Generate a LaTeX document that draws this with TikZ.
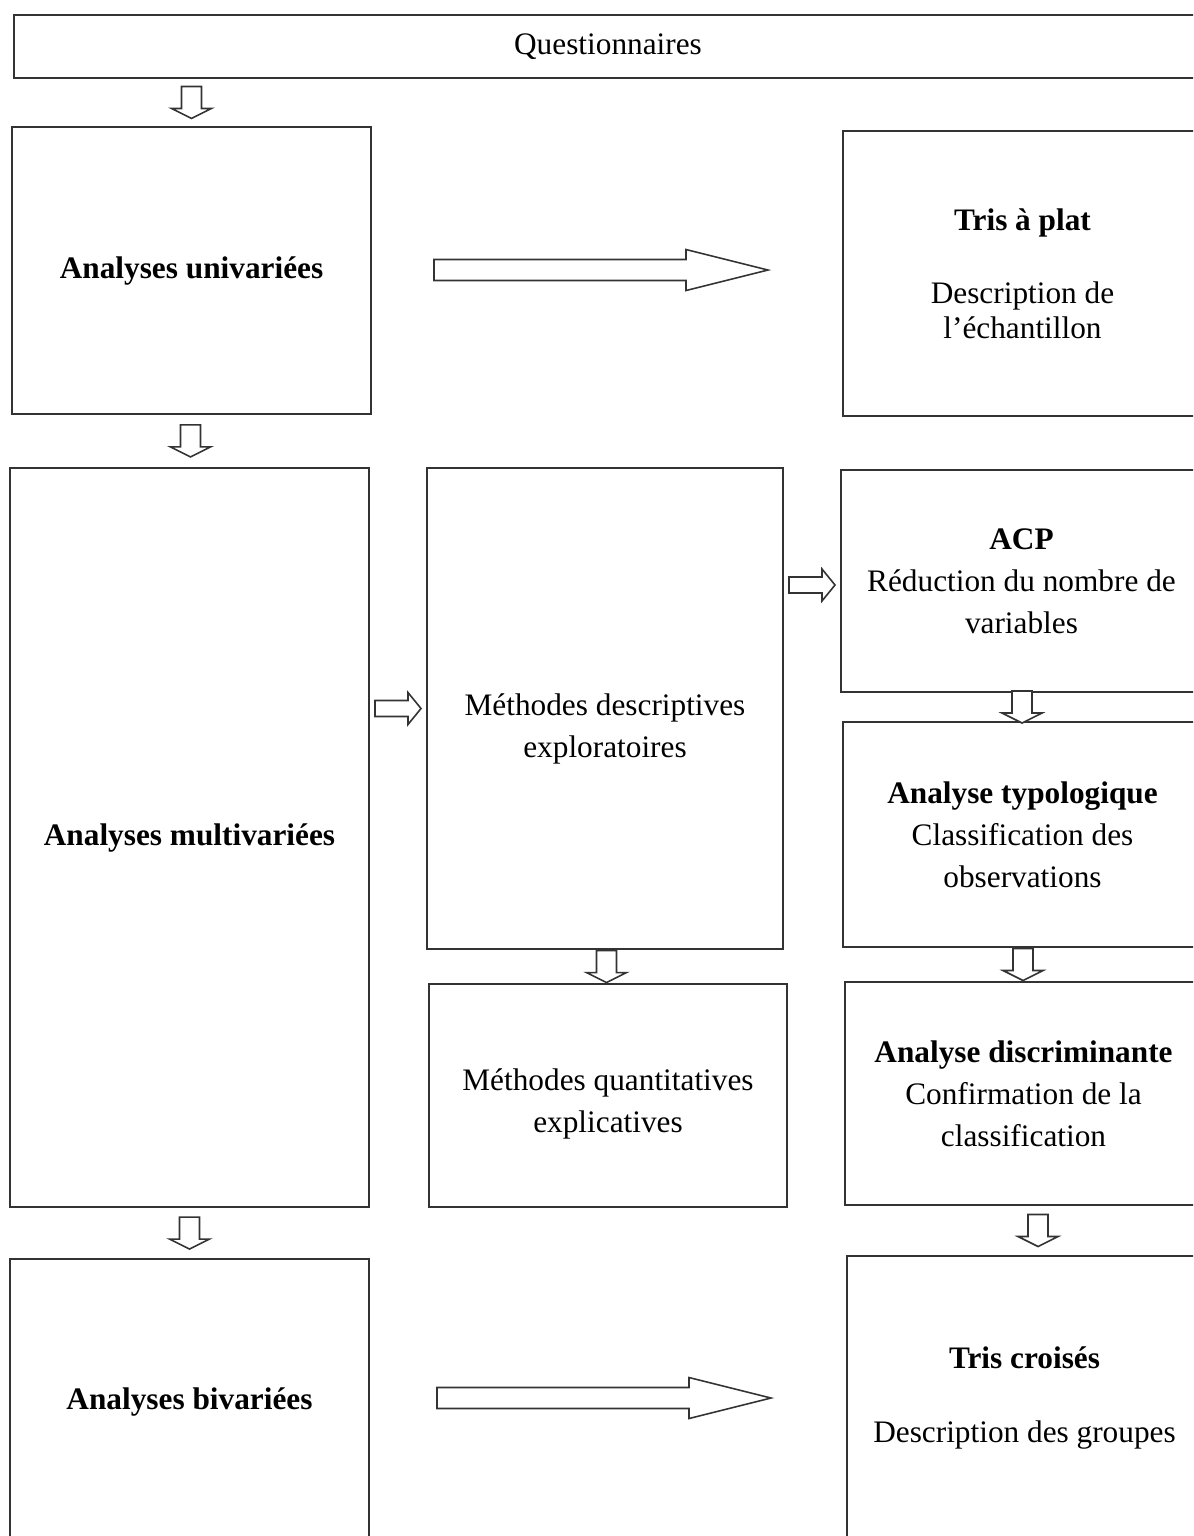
\documentclass[tikz,border=0pt]{standalone}
\usepackage{fontspec}
\setmainfont{Liberation Serif}
\usepackage{tikz}
\usetikzlibrary{calc}

\begin{document}
\begin{tikzpicture}[x=0.01cm, y=-0.01cm]
		\tikzstyle{box} = [rectangle, draw=black!80, line width=0.6pt, align=center,
		inner sep=0pt, font=\fontsize{8.9}{11.9}\selectfont]
		\tikzstyle{blockarrow} = [draw=black!80, line width=0.45pt, fill=white, line join=miter]
		\tikzset{
			pics/downarr/.style={code={\draw [blockarrow] (-10,-16) -- (10,-16) -- (10,6) -- (20,6) -- (0,16) -- (-20,6) -- (-10,6) -- cycle;}},
			pics/rightarr/.style={code={\draw [blockarrow] (-23,-8) -- (10,-8) -- (10,-16) -- (23,0) -- (10,16) -- (10,8) -- (-23,8) -- cycle;}},
			pics/bigarr/.style={code={\draw [blockarrow] (-167,-10.5) -- (85,-10.5) -- (85,-20.5) -- (167,0) -- (85,20.5) -- (85,10.5) -- (-167,10.5) -- cycle;}}
		}
		\clip (0,0) rectangle (1193,1536);
		% left column
		\node (quest) [box, minimum width=11.88cm, minimum height=0.63cm] at (608,46.5) {Questionnaires};
		\node (univ) [box, minimum width=3.59cm, minimum height=2.87cm] at (191.5,270.5) {\textbf{Analyses univariées}};
		\node (multi) [box, minimum width=3.59cm, minimum height=7.39cm] at (189.5,837.5) {\textbf{Analyses multivariées}};
		\node (biv) [box, minimum width=3.59cm, minimum height=2.86cm] at (189.5,1402) {\textbf{Analyses bivariées}};
		% middle column
		\node (desc) [box, minimum width=3.56cm, minimum height=4.81cm] at (605,708.5) {\rule{0pt}{18pt}Méthodes descriptives\\exploratoires};
		\node (quant) [box, minimum width=3.58cm, minimum height=2.23cm] at (608,1095.5) {\rule{0pt}{11pt}Méthodes quantitatives\\explicatives};
		% right column
		\node (plat) [box, minimum width=3.59cm, minimum height=2.85cm, font=\fontsize{8.9}{10}\selectfont] at (1022.5,273.5) {\textbf{Tris à plat}\\[10.8pt]Description de\\l’échantillon};
		\node (acp) [box, minimum width=3.61cm, minimum height=2.22cm] at (1021.5,581) {\textbf{ACP}\\Réduction du nombre de\\variables};
		\node (typo) [box, minimum width=3.59cm, minimum height=2.25cm] at (1022.5,834.5) {\textbf{Analyse typologique}\\Classification des\\observations};
		\node (discr) [box, minimum width=3.57cm, minimum height=2.23cm] at (1023.5,1093.5) {\textbf{Analyse discriminante}\\Confirmation de la\\classification};
		\node (croises) [box, minimum width=3.55cm, minimum height=2.84cm] at (1024.5,1398) {\textbf{Tris croisés}\\[8.9pt]Description des groupes};
		% arrows
		\pic at ($(univ.north |- quest.south)!0.5!(univ.north)$) {downarr};
		\pic at ($(univ.south)!0.5!(multi.north)$) {downarr};
		\pic at ($(multi.south)!0.5!(biv.north)$) {downarr};
		\pic at ($(desc.south)!0.5!(quant.north)$) {downarr};
		\pic at ($(acp.south)!0.5!(typo.north)$) {downarr};
		\pic at ($(typo.south)!0.5!(discr.north)$) {downarr};
		\pic at ($(discr.south)!0.5!(croises.north)+(14,0)$) {downarr};
		\pic at ($(multi.east |- desc.west)!0.5!(desc.west)$) {rightarr};
		\pic at ($(desc.east |- acp.west)!0.5!(acp.west)+(0,4)$) {rightarr};
		\pic at ($(univ.east)!0.5!(plat.west)+(-6,-2)$) {bigarr};
		\pic at ($(biv.east |- croises.west)!0.5!(croises.west)+(-4,0)$) {bigarr};
\end{tikzpicture}
\end{document}
